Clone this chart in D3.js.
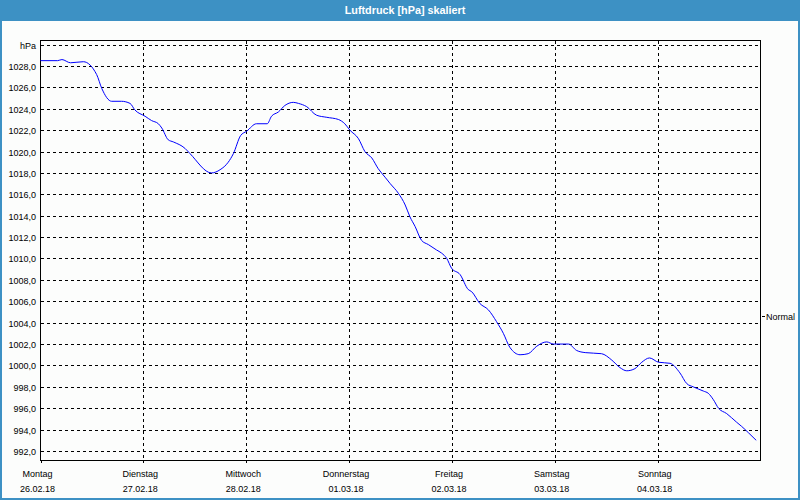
<!DOCTYPE html>
<html><head><meta charset="utf-8">
<script src="https://cdn.jsdelivr.net/npm/d3@7"></script>
<style>
html,body{margin:0;padding:0;background:#fcfdfc;}
svg{display:block;}
text{font-family:"Liberation Sans",Arial,sans-serif;}
</style></head>
<body>
<svg id="chart" width="800" height="500"></svg>
<script>
const title = "Luftdruck [hPa] skaliert";
const unitLabel = "hPa";
const dayNames = ["Montag","Dienstag","Mittwoch","Donnerstag","Freitag","Samstag","Sonntag"];
const dayDates = ["26.02.18","27.02.18","28.02.18","01.03.18","02.03.18","03.03.18","04.03.18"];
const yTicks = [992,994,996,998,1000,1002,1004,1006,1008,1010,1012,1014,1016,1018,1020,1022,1024,1026,1028];
const normalLabel = "Normal";
const normalValue = 1004.6;
// hours since 26.02.18 00:00
const hours = [0,4,5,7,10,13.1,14.3,16.6,18.9,20.9,22,24.4,25.9,27.5,28.3,29.8,31,33.7,34.9,39.9,41.9,43.8,45,46.7,48.1,50.4,52.9,53.9,55.5,57,59,60.2,62.1,64.4,66.8,69.5,71,72.2,74.2,75.7,77.3,78.8,80.4,81.6,83.5,85.1,86.2,87.4,88.9,90.5,92.4,93.6,94.8,95.9,97.9,99.8,100.6,102.5,104.5,106.4,108,109.5,111.9,113.8,115.8,118.1,119.7,123.2,125.1,127.1,130.9,133.3,135.2,136.8,138.7,140.3,142.1,144.2,146.9,149.2,150.8,152.3,154.7,155.8,157,158.2,160.1,162.4,163.6,165.2,167];
const pressure = [1028.5,1028.5,1028.6,1028.3,1028.4,1027.2,1025.9,1024.7,1024.7,1024.5,1023.9,1023.3,1022.9,1022.6,1022.2,1021.1,1020.9,1020.3,1019.8,1018.0,1018.3,1019.0,1019.8,1021.5,1021.9,1022.6,1022.6,1023.3,1023.7,1024.3,1024.6,1024.5,1024.2,1023.4,1023.2,1023.0,1022.6,1022.0,1021.2,1020.0,1019.4,1018.4,1017.6,1017.0,1016.1,1015.0,1013.9,1013.0,1011.7,1011.3,1010.8,1010.5,1010.0,1009.1,1008.5,1007.1,1006.9,1005.8,1005.2,1004.1,1003.0,1001.7,1001.0,1001.1,1001.8,1002.2,1002.0,1002.0,1001.4,1001.2,1001.1,1000.5,999.8,999.5,999.7,1000.3,1000.7,1000.3,1000.2,999.3,998.3,998.0,997.6,997.4,996.8,996.0,995.5,994.7,994.3,993.7,993.0];

const W = 800, H = 500;
const svg = d3.select("#chart");
const blue = "#3d91c4";

// frame & title bar
svg.append("rect").attr("x",0).attr("y",0).attr("width",W).attr("height",H).attr("fill","#fcfdfc");
svg.append("rect").attr("x",0).attr("y",0).attr("width",W).attr("height",21).attr("fill",blue);
svg.append("rect").attr("x",1).attr("y",1).attr("width",W-2).attr("height",H-2)
  .attr("fill","none").attr("stroke",blue).attr("stroke-width",2);
svg.append("text").attr("x",405).attr("y",14).attr("text-anchor","middle")
  .attr("fill","#ffffff").attr("font-weight","bold").attr("font-size","10.8px").text(title);

const L = 40, R = 760, T = 40, B = 460;
const x = d3.scaleLinear().domain([0,168]).range([40.5,760.5]);
const y = d3.scaleLinear().domain([992,1030]).range([451,44.6]);

const g = svg.append("g");
// horizontal grid
const hLines = yTicks.concat([1030]);
g.selectAll("line.hg").data(hLines).enter().append("line")
  .attr("x1",L+1).attr("x2",R).attr("y1",d=>Math.round(y(d))+0.5).attr("y2",d=>Math.round(y(d))+0.5)
  .attr("stroke","#000").attr("stroke-dasharray","3,3").attr("stroke-width",1);
// vertical grid
const dayIdx = d3.range(1,7);
g.selectAll("line.vg").data(dayIdx).enter().append("line")
  .attr("x1",d=>Math.round(x(d*24))+0.5).attr("x2",d=>Math.round(x(d*24))+0.5)
  .attr("y1",T+1).attr("y2",B)
  .attr("stroke","#000").attr("stroke-dasharray","3,3").attr("stroke-width",1);
// bottom ticks
g.selectAll("line.bt").data(d3.range(0,7)).enter().append("line")
  .attr("x1",d=>Math.round(x(d*24))+0.5).attr("x2",d=>Math.round(x(d*24))+0.5)
  .attr("y1",B).attr("y2",B+3).attr("stroke","#000");
// frame
g.append("rect").attr("x",L+0.5).attr("y",T+0.5).attr("width",R-L).attr("height",B-T)
  .attr("fill","none").attr("stroke","#000").attr("stroke-width",1);

// y labels
g.selectAll("text.yl").data(yTicks).enter().append("text")
  .attr("x",36).attr("y",d=>Math.round(y(d))+3.5).attr("text-anchor","end")
  .attr("font-size","9px").attr("fill","#000")
  .text(d=>d.toFixed(1).replace(".",","));
g.append("text").attr("x",36).attr("y",Math.round(y(1030))+3.5).attr("text-anchor","end")
  .attr("font-size","9px").attr("fill","#000").text(unitLabel);

// x labels
g.selectAll("text.dn").data(dayNames).enter().append("text")
  .attr("x",(d,i)=>x(i*24)-3).attr("y",477).attr("text-anchor","middle")
  .attr("font-size","9px").attr("fill","#000").text(d=>d);
g.selectAll("text.dd").data(dayDates).enter().append("text")
  .attr("x",(d,i)=>x(i*24)-3).attr("y",491.5).attr("text-anchor","middle")
  .attr("font-size","9px").attr("fill","#000").text(d=>d);

// normal marker
g.append("line").attr("x1",R+2).attr("x2",R+5)
  .attr("y1",Math.round(y(normalValue))+0.5).attr("y2",Math.round(y(normalValue))+0.5).attr("stroke","#000");
g.append("text").attr("x",R+6).attr("y",Math.round(y(normalValue))+3.5)
  .attr("font-size","9px").attr("fill","#000").text(normalLabel);

// data line
const data = hours.map((h,i)=>({h:h,p:pressure[i]}));
const line = d3.line().x(d=>x(d.h)).y(d=>y(d.p)).curve(d3.curveMonotoneX);
g.append("path").datum(data).attr("d",line).attr("fill","none")
  .attr("stroke","#0000ff").attr("stroke-width",1);
</script>
</body></html>
